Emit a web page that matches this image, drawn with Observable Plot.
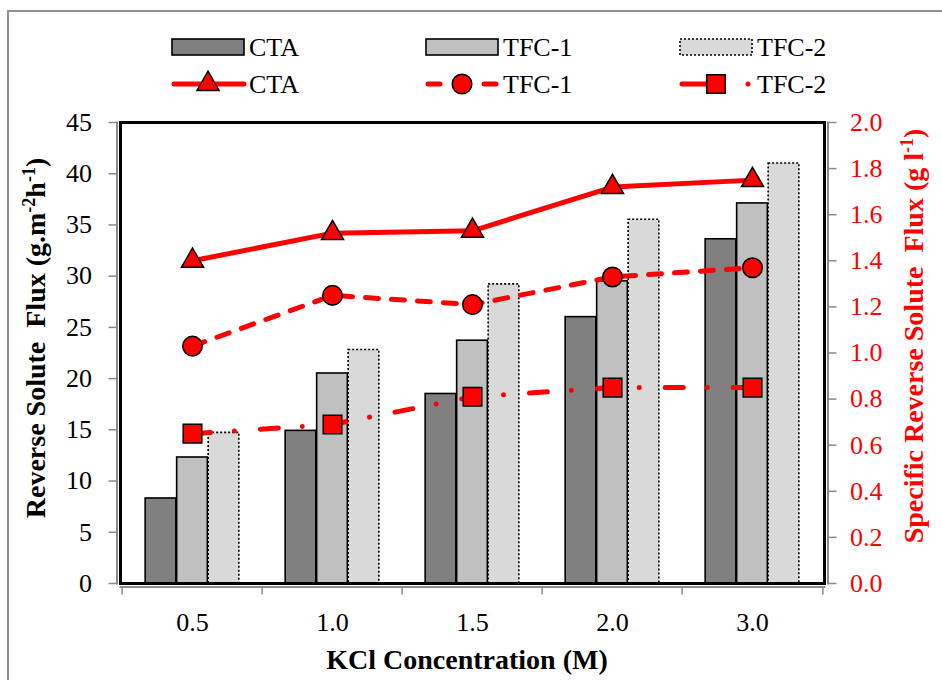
<!DOCTYPE html>
<html><head><meta charset="utf-8">
<script src="https://cdn.jsdelivr.net/npm/d3@7"></script>
<script src="https://cdn.jsdelivr.net/npm/@observablehq/plot@0.6"></script>
<style>
html,body{margin:0;padding:0;background:#fff;}
#chart{position:relative;width:942px;height:680px;overflow:hidden;background:#fff;font-family:"Liberation Serif","Times New Roman",serif;}
#border{position:absolute;left:7px;top:10px;width:1000px;height:1000px;border:2px solid #8f8f8f;}
#legend,#plot{position:absolute;left:0;}
#legend{top:0}
#plot{top:105px}
svg text{white-space:pre;}
</style></head><body>
<div id="chart"><div id="border"></div><div id="legend"></div><div id="plot"></div></div>
<script>
// ---- data ----
const categories = ["0.5", "1.0", "1.5", "2.0", "3.0"];
const seriesNames = ["CTA", "TFC-1", "TFC-2"];
const fluxCTA = [8.3, 14.9, 18.5, 26.0, 33.6];
const fluxTFC1 = [12.3, 20.5, 23.7, 29.5, 37.1];
const fluxTFC2 = [14.7, 22.8, 29.2, 35.5, 41.0];
const specCTA = [1.40, 1.52, 1.53, 1.72, 1.75];
const specTFC1 = [1.03, 1.25, 1.21, 1.33, 1.37];
const specTFC2 = [0.65, 0.69, 0.81, 0.85, 0.85];
const leftTicks = [0, 5, 10, 15, 20, 25, 30, 35, 40, 45];
const rightTicks = [0.0, 0.2, 0.4, 0.6, 0.8, 1.0, 1.2, 1.4, 1.6, 1.8, 2.0];
const xTitle = "KCl Concentration (M)";
const leftTitle = ["Reverse Solute  Flux (g.m", "-2", "h", "-1", ")"];
const rightTitle = ["Specific Reverse Solute  Flux (g l", "-1", ")"];

const fluxValues = [fluxCTA, fluxTFC1, fluxTFC2];
const specValues = [specCTA, specTFC1, specTFC2];
const K = 45 / 2; // right axis max (2.0) maps onto left axis max (45)

const rows = [];
seriesNames.forEach((s, i) => categories.forEach((c, j) =>
  rows.push({cat: c, series: s, flux: fluxValues[i][j], spec: specValues[i][j]})));

const FONT = '"Liberation Serif", "Times New Roman", serif';
const RED = "#ff0000";
const barStyle = {
  "CTA": {fill: "#808080", stroke: "#000", strokeWidth: 1.6},
  "TFC-1": {fill: "#c0c0c0", stroke: "#000", strokeWidth: 1.6},
  "TFC-2": {fill: "#d9d9d9", stroke: "#000", strokeWidth: 1.6, strokeDasharray: "2,2"}
};
const lineStyle = {
  "CTA": {dash: null, symbol: "triangle", r: 8.2},
  "TFC-1": {dash: "13,13", symbol: "circle", r: 9.8},
  "TFC-2": {dash: "18,24,0.01,26", symbol: "square", r: 10.5}
};

const W = 942, H = 575, mL = 120, mR = 118, mT = 17, mB = 97;
const band = (W - mL - mR) / categories.length;
const barW = 31.5;
const inset = (band - barW) / 2;

const marks = [];
seriesNames.forEach((s, i) => {
  marks.push(Plot.barY(rows.filter(d => d.series === s), {
    x: "cat", y: "flux", insetLeft: inset, insetRight: inset, dx: (i - 1) * barW,
    ...barStyle[s]
  }));
});
marks.push(
  Plot.frame({stroke: "#000", strokeWidth: 3}),
  Plot.frame({anchor: "left", stroke: "#8a8a8a", strokeWidth: 2, dx: -3.5}),
  Plot.frame({anchor: "right", stroke: "#8a8a8a", strokeWidth: 2, dx: 3.5}),
  Plot.frame({anchor: "bottom", stroke: "#8a8a8a", strokeWidth: 2, dy: 3.5}),
  // left axis
  Plot.axisY({anchor: "left", ticks: leftTicks, tickSize: 8, dx: -3.5, tickFormat: () => "", color: "#8a8a8a", strokeWidth: 1.5, label: null}),
  Plot.axisY({anchor: "left", ticks: leftTicks, tickSize: 0, tickPadding: 25, dx: -3.5, color: "#000", fontSize: 26, label: null}),
  // right axis
  Plot.axisY({anchor: "right", ticks: rightTicks.map(v => v * K), tickSize: 8, dx: 3.5, tickFormat: () => "", color: "#8a8a8a", strokeWidth: 1.5, label: null}),
  Plot.axisY({anchor: "right", ticks: rightTicks.map(v => v * K), tickSize: 0, tickPadding: 22, dx: 3.5, tickFormat: d => (d / K).toFixed(1), color: RED, fontSize: 26, label: null}),
  // x axis
  Plot.axisX({tickSize: 8, dy: 3.5, dx: -band / 2, tickFormat: () => "", color: "#8a8a8a", strokeWidth: 1.5, label: null}),
  Plot.axisX({ticks: [categories[categories.length - 1]], tickSize: 8, dy: 3.5, dx: band / 2, tickFormat: () => "", color: "#8a8a8a", strokeWidth: 1.5, label: null}),
  Plot.axisX({tickSize: 0, tickPadding: 29, color: "#000", fontSize: 26, label: null})
);
seriesNames.forEach(s => {
  const data = rows.filter(d => d.series === s);
  marks.push(Plot.line(data, {x: "cat", y: d => d.spec * K, stroke: RED, strokeWidth: 5,
    strokeDasharray: lineStyle[s].dash, strokeLinecap: "round", strokeLinejoin: "round"}));
});
seriesNames.forEach(s => {
  const data = rows.filter(d => d.series === s);
  marks.push(Plot.dot(data, {x: "cat", y: d => d.spec * K, symbol: lineStyle[s].symbol, r: lineStyle[s].r,
    fill: RED, stroke: "#000", strokeWidth: 1.5}));
});

const plot = Plot.plot({
  width: W, height: H, marginTop: mT, marginBottom: mB, marginLeft: mL, marginRight: mR,
  style: {fontFamily: FONT, fontSize: "26px", background: "transparent", color: "#000", overflow: "visible"},
  x: {type: "band", domain: categories, padding: 0, axis: null},
  y: {domain: [0, 45], axis: null},
  marks
});
document.getElementById("plot").appendChild(plot);

// axis titles
const svg = d3.select(plot);
svg.append("text").attr("x", 467).attr("y", 564).attr("text-anchor", "middle")
  .attr("font-family", FONT).attr("font-size", 28).attr("font-weight", "bold").attr("fill", "#000").text(xTitle);

function vTitle(x, y, parts, color) {
  const t = svg.append("text").attr("transform", `translate(${x},${y}) rotate(-90)`)
    .attr("text-anchor", "middle").attr("font-family", FONT).attr("font-size", 28)
    .attr("font-weight", "bold").attr("fill", color);
  parts.forEach((p, i) => {
    const sup = i % 2 === 1;
    t.append("tspan").attr("font-size", sup ? 18 : 28).attr("dy", sup ? "-0.55em" : (i > 0 ? "0.35em" : 0)).text(p);
  });
}
vTitle(45, 233, leftTitle, "#000");
vTitle(923, 231, rightTitle, RED);

// legend
const lg = d3.select("#legend").append("svg").attr("width", W).attr("height", 105)
  .attr("font-family", FONT).attr("font-size", 26);
const slots = [172, 426, 680];
seriesNames.forEach((s, i) => {
  const x0 = slots[i];
  const st = barStyle[s];
  lg.append("rect").attr("x", x0).attr("y", 39).attr("width", 72).attr("height", 16)
    .attr("fill", st.fill).attr("stroke", st.stroke).attr("stroke-width", st.strokeWidth)
    .attr("stroke-dasharray", st.strokeDasharray || null);
  lg.append("text").attr("x", x0 + 77).attr("y", 56).attr("fill", "#000").text(s);
  // line row
  const y = 84, cx = x0 + 36;
  const ls = lineStyle[s];
  const g = lg.append("g").attr("stroke", RED).attr("stroke-width", 5).attr("stroke-linecap", "round");
  if (s === "CTA") {
    g.append("line").attr("x1", x0 + 2).attr("x2", x0 + 72).attr("y1", y).attr("y2", y);
  } else if (s === "TFC-1") {
    g.append("line").attr("x1", x0 + 2).attr("x2", x0 + 14).attr("y1", y).attr("y2", y);
    g.append("line").attr("x1", x0 + 58).attr("x2", x0 + 70).attr("y1", y).attr("y2", y);
  } else {
    g.append("line").attr("x1", x0 + 2).attr("x2", x0 + 30).attr("y1", y).attr("y2", y);
    g.append("line").attr("x1", x0 + 68).attr("x2", x0 + 68.01).attr("y1", y).attr("y2", y);
  }
  const sym = {triangle: d3.symbolTriangle, circle: d3.symbolCircle, square: d3.symbolSquare}[ls.symbol];
  lg.append("path").attr("transform", `translate(${cx},${y})`)
    .attr("d", d3.symbol(sym, Math.PI * ls.r * ls.r)())
    .attr("fill", RED).attr("stroke", "#000").attr("stroke-width", 1.5);
  lg.append("text").attr("x", x0 + 77).attr("y", 93).attr("fill", "#000").text(s);
});
</script>
</body></html>
